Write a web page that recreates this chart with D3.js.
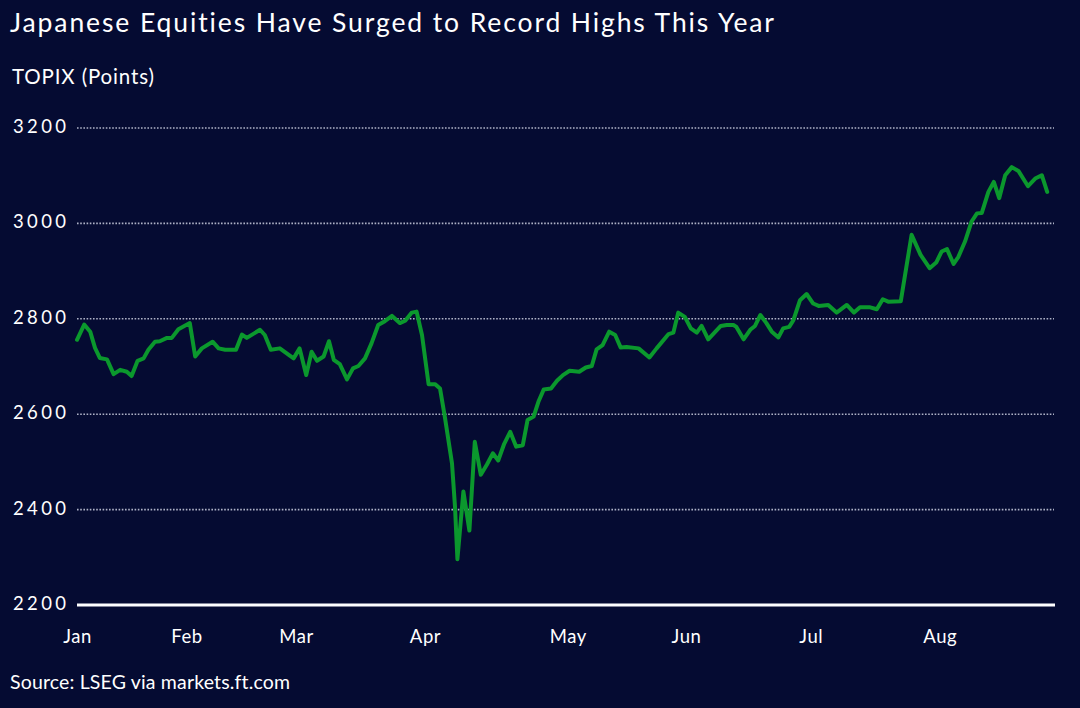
<!DOCTYPE html>
<html>
<head>
<meta charset="utf-8">
<script src="https://cdn.jsdelivr.net/npm/d3@7"></script>
<style>
  html, body { margin: 0; padding: 0; background: #050b32; }
  svg { display: block; }
  text { font-family: Lato, "Noto Sans", sans-serif; fill: #ffffff; font-variant-ligatures: none; }
</style>
</head>
<body>
<div id="chart"></div>
<script>
// trading-day position of each traced point and the TOPIX close there
const dayIndex = [
  0.0, 1.2, 2.2, 3.0, 3.8, 5.0, 6.1, 7.2, 8.3, 9.1, 10.1, 11.1, 11.9, 13.0, 13.8, 15.0, 15.8, 16.9, 18.8,
  19.7, 20.8, 22.6, 23.6, 24.7, 26.5, 27.5, 28.3, 30.5, 31.3, 32.3, 33.8,
  36.1, 37.1, 38.2, 39.1, 40.0, 41.1, 42.0, 42.8, 43.8, 45.0, 46.0, 46.9, 48.0, 49.1, 50.2, 51.3, 52.5,
  53.8, 54.7, 55.8, 56.6, 57.5, 58.6, 59.7, 60.5, 61.3, 62.5, 63.0, 63.4, 64.4, 65.4, 66.3, 67.3, 68.3,
  69.3, 70.2, 71.2, 72.2, 73.2, 74.3, 75.1, 76.1, 76.9, 77.8, 79.0, 80.0, 81.0, 82.1, 83.7, 84.8, 85.8,
  86.6, 87.6, 88.7, 89.7, 90.6, 91.6, 93.6, 95.4, 96.6, 98.6, 99.4, 100.2, 101.3, 102.3, 103.3, 104.1,
  105.2, 107.3, 108.3, 109.4, 109.9, 111.1, 112.2, 113.0, 113.9, 114.9, 115.8, 116.9, 117.7, 118.7, 119.4,
  120.5, 121.6, 122.7, 123.6, 125.2, 126.6, 128.3, 129.5, 130.5, 132.2, 133.3, 134.3, 135.2, 137.3,
  139.1, 140.6, 142.1, 143.2, 144.1, 145.0, 146.1, 146.9, 148.0, 149.1, 150.0, 150.8, 151.9, 152.8,
  153.7, 154.7, 155.8, 156.9, 158.5, 159.7, 160.8, 161.7
];
const topix = [
  2756, 2788, 2773, 2739, 2718, 2715, 2684, 2693, 2689, 2680, 2712, 2717, 2735, 2752, 2753, 2760, 2760, 2778, 2791,
  2721, 2738, 2752, 2738, 2735, 2735, 2767, 2760, 2777, 2766, 2735, 2738,
  2717, 2738, 2682, 2731, 2712, 2721, 2753, 2714, 2705, 2673, 2696, 2701, 2717, 2749, 2787, 2795, 2806,
  2791, 2796, 2813, 2815, 2766, 2663, 2663, 2654, 2595, 2497, 2406, 2296, 2438, 2356, 2542, 2473, 2494,
  2518, 2503, 2538, 2563, 2532, 2535, 2588, 2595, 2626, 2652, 2654, 2670, 2682, 2691, 2689, 2698, 2701,
  2736, 2745, 2773, 2766, 2740, 2741, 2738, 2719, 2738, 2768, 2771, 2813, 2804, 2780, 2771, 2785,
  2757, 2785, 2787, 2787, 2783, 2757, 2777, 2785, 2808, 2791, 2773, 2761, 2780, 2783, 2797,
  2839, 2852, 2832, 2827, 2829, 2813, 2829, 2813, 2824, 2824, 2820, 2841, 2836, 2837,
  2976, 2934, 2906, 2918, 2941, 2946, 2915, 2930, 2962, 3004, 3021, 3022, 3066, 3087,
  3053, 3101, 3118, 3110, 3078, 3094, 3101, 3066
];

const monthLabels = ["Jan", "Feb", "Mar", "Apr", "May", "Jun", "Jul", "Aug"];
const monthTicks = [0, 18.25, 36.5, 58, 81.8, 101.5, 122.3, 143.8];
const yTicks = [2200, 2400, 2600, 2800, 3000, 3200];

const width = 1080,
    height = 708;

const points = dayIndex.map((d, i) => ({ day: d, value: topix[i] }));

const x = d3.scaleLinear()
    .domain([0, 162])
    .range([77, 1049]);

const y = d3.scaleLinear()
    .domain([2200, 3200])
    .range([605, 128]);

const gridRight = 1054;

const svg = d3.select("#chart")
    .append("svg")
    .attr("width", width)
    .attr("height", height);

svg.append("rect")
    .attr("width", width)
    .attr("height", height)
    .attr("fill", "#050b32");

// titles (font is narrower than the original, so stretch the spacing)
svg.append("text")
    .attr("x", 10)
    .attr("y", 32)
    .attr("textLength", 764)
    .attr("lengthAdjust", "spacing")
    .style("font-size", "26.5px")
    .text("Japanese Equities Have Surged to Record Highs This Year");

svg.append("text")
    .attr("x", 12)
    .attr("y", 84)
    .attr("textLength", 142)
    .attr("lengthAdjust", "spacing")
    .style("font-size", "20.5px")
    .text("TOPIX (Points)");

// gridlines
svg.append("g")
    .selectAll("line")
    .data(yTicks.filter(d => d !== 2200))
    .enter()
    .append("line")
    .attr("x1", x(0))
    .attr("x2", gridRight)
    .attr("y1", d => y(d))
    .attr("y2", d => y(d))
    .style("stroke", "#aeb2c6")
    .style("stroke-width", 1.6)
    .style("stroke-dasharray", "1.6,1.6");

// y labels
svg.append("g")
    .selectAll("text")
    .data(yTicks)
    .enter()
    .append("text")
    .attr("x", 13)
    .attr("y", d => y(d) - 2)
    .attr("dominant-baseline", "central")
    .attr("textLength", 53)
    .attr("lengthAdjust", "spacing")
    .style("font-size", "18.5px")
    .text(d => d);

// baseline
svg.append("line")
    .attr("x1", x(0))
    .attr("x2", gridRight + 1)
    .attr("y1", y(2200))
    .attr("y2", y(2200))
    .style("stroke", "#ffffff")
    .style("stroke-width", 3);

// month labels
const xAxis = d3.axisBottom(x)
    .tickValues(monthTicks)
    .tickFormat((d, i) => monthLabels[i])
    .tickSize(0)
    .tickPadding(0);

const xg = svg.append("g")
    .attr("transform", "translate(0,643)")
    .call(xAxis);
xg.select(".domain").remove();
xg.selectAll("text")
    .attr("y", 0)
    .attr("dy", 0)
    .style("font-size", "18.5px")
    .style("letter-spacing", "0.6px")
    .style("font-family", "Lato, 'Noto Sans', sans-serif")
    .attr("fill", "#ffffff");

// line
const line = d3.line()
    .x(d => x(d.day))
    .y(d => y(d.value));

svg.append("path")
    .datum(points)
    .attr("d", line)
    .style("fill", "none")
    .style("stroke", "#0b982d")
    .style("stroke-width", 4)
    .style("stroke-linejoin", "round")
    .style("stroke-linecap", "round");

// source
svg.append("text")
    .attr("x", 10)
    .attr("y", 689)
    .attr("textLength", 280)
    .attr("lengthAdjust", "spacing")
    .style("font-size", "19.5px")
    .text("Source: LSEG via markets.ft.com");
</script>
</body>
</html>
